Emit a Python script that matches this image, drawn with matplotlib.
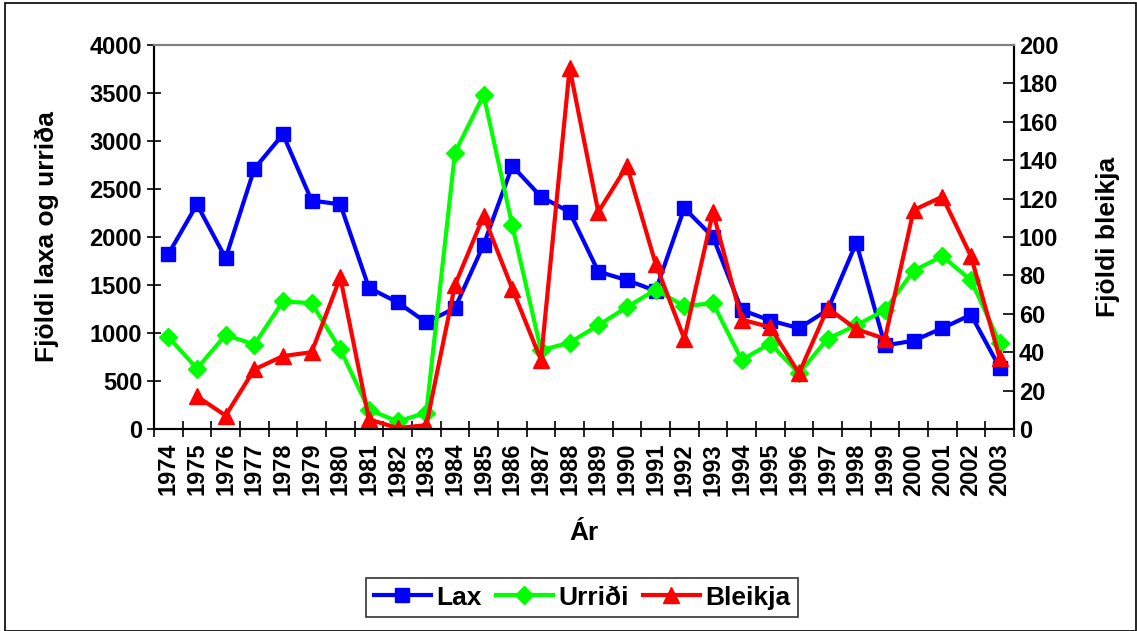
import numpy as np
import matplotlib.pyplot as plt
from matplotlib.patches import Rectangle

plt.rcParams['font.family'] = ['Liberation Sans', 'DejaVu Sans']
plt.rcParams['font.weight'] = 'bold'

years = list(range(1974, 2004))
lax = [1820, 2340, 1780, 2710, 3070, 2380, 2340, 1470, 1320, 1110,
       1260, 1920, 2740, 2420, 2260, 1640, 1550, 1440, 2300, 2000,
       1240, 1130, 1050, 1240, 1940, 870, 920, 1050, 1190, 640]
urridi = [960, 630, 980, 880, 1330, 1310, 830, 200, 80, 170,
          2880, 3480, 2120, 820, 900, 1080, 1270, 1450, 1280, 1310,
          720, 890, 580, 940, 1080, 1240, 1650, 1800, 1550, 900]
bleikja = [np.nan, 17, 7, 31, 38, 40, 79, 5, 0.5, 2,
           75, 111, 73, 36, 188, 113, 137, 86, 47, 113,
           57, 53, 29, 63, 52, 47, 114, 121, 90, 37]

x = np.arange(len(years))

fig = plt.figure(figsize=(11.37, 6.31), dpi=100)
fig.patches.append(Rectangle((0.004, 0.0), 0.995, 0.995, transform=fig.transFigure,
                             fill=False, edgecolor='black', linewidth=1.2))
ax = fig.add_axes([0.1354, 0.3201, 0.7564, 0.6086])
ax2 = ax.twinx()

l1, = ax.plot(x, lax, color='#0000ff', marker='s', markersize=10, linewidth=3, label='Lax')
l2, = ax.plot(x, urridi, color='#00ff00', marker='D', markersize=9, linewidth=3, label='Urriði')
l3, = ax2.plot(x, bleikja, color='#ff0000', marker='^', markersize=11, linewidth=3, label='Bleikja')

ax.set_xlim(-0.5, len(years) - 0.5)
ax.set_ylim(0, 4000)
ax2.set_ylim(0, 200)
ax.set_yticks(np.arange(0, 4001, 500))
ax2.set_yticks(np.arange(0, 201, 20))
ax.set_xticks(x)
ax.set_xticklabels([str(y) for y in years], rotation=90, fontsize=17, fontweight='bold')
ax.set_xticks(np.arange(-0.5, len(years)), minor=True)
ax.tick_params(axis='x', which='major', length=0, pad=10)
ax.tick_params(axis='x', which='minor', direction='inout', length=12, width=1.2)
ax.tick_params(axis='y', direction='inout', length=10, width=1.2, labelsize=17)
ax2.tick_params(axis='y', direction='in', length=8, width=1.2, labelsize=17)
for t in ax.get_yticklabels() + ax2.get_yticklabels():
    t.set_fontweight('bold')

for a in (ax, ax2):
    a.spines['top'].set_color('#808080')
    a.spines['top'].set_linewidth(1.5)
    for s in ('left', 'right', 'bottom'):
        a.spines[s].set_linewidth(1.5)

ax.set_xlabel('Ár', fontsize=19, fontweight='bold', labelpad=18)
ax.set_ylabel('Fjöldi laxa og urriða', fontsize=19, fontweight='bold', labelpad=22)
ax2.set_ylabel('Fjöldi bleikja', fontsize=19, fontweight='bold', labelpad=27)

leg = fig.legend([l1, l2, l3], ['Lax', 'Urriði', 'Bleikja'], loc='center',
                 bbox_to_anchor=(0.512, 0.053), ncol=3, fontsize=19, frameon=True,
                 fancybox=False, edgecolor='black', handlelength=2.15, columnspacing=0.55,
                 handletextpad=0.2, borderpad=0.3, borderaxespad=0.2)
leg.get_frame().set_linewidth(1.2)
for t in leg.get_texts():
    t.set_fontweight('bold')

fig.savefig('out.png', dpi=100)
